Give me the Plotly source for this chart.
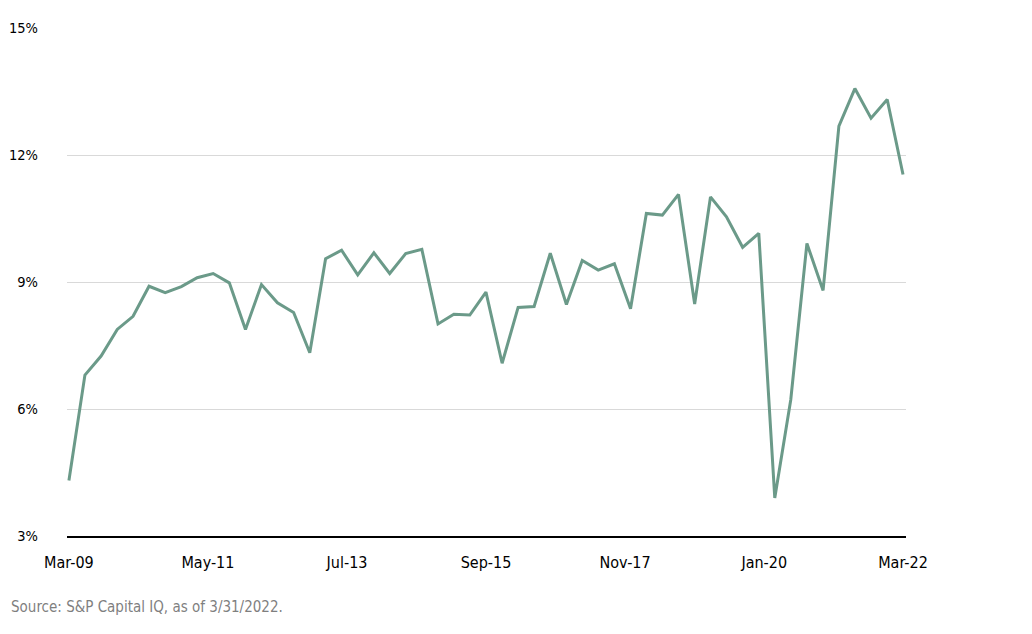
import plotly.graph_objects as go

# quarter ends, Mar-09 .. Mar-22
quarters = [f"{y}-{m}" for y in range(2009, 2023) for m in ("03-31", "06-30", "09-30", "12-31")]
quarters = quarters[:53]

values = [4.31, 6.80, 7.25, 7.88, 8.19, 8.90, 8.75, 8.89, 9.10, 9.20,
          8.98, 7.88, 8.94, 8.51, 8.28, 7.33, 9.55, 9.75, 9.17, 9.69,
          9.20, 9.67, 9.77, 8.01, 8.24, 8.22, 8.76, 7.08, 8.40, 8.42,
          9.68, 8.47, 9.51, 9.28, 9.43, 8.37, 10.62, 10.58, 11.07, 8.48,
          11.01, 10.54, 9.82, 10.15, 3.90, 6.22, 9.91, 8.80, 12.68, 13.57,
          12.87, 13.31, 11.54]

tick_dates = ["2009-03-31", "2011-05-31", "2013-07-31", "2015-09-30",
              "2017-11-30", "2020-01-31", "2022-03-31"]
tick_labels = ["Mar-09", "May-11", "Jul-13", "Sep-15", "Nov-17", "Jan-20", "Mar-22"]

y_ticks = [3, 6, 9, 12, 15]
y_labels = ["3%", "6%", "9%", "12%", "15%"]

font = "DejaVu Sans Condensed, DejaVu Sans, sans-serif"

fig = go.Figure()
fig.add_trace(go.Scatter(x=quarters, y=values, mode="lines",
                         line=dict(color="#6b9a89", width=3),
                         showlegend=False, hoverinfo="x+y"))

# page body adds an 8px offset, so margins are shifted to compensate
fig.update_layout(
    width=1032, height=634,
    margin=dict(l=59, r=134, t=20, b=106),
    paper_bgcolor="white", plot_bgcolor="white",
    font=dict(family=font, color="#000000"),
)
fig.update_xaxes(
    type="date", automargin=False,
    range=["2009-03-20", "2022-04-17"],
    tickvals=tick_dates, ticktext=tick_labels,
    tickfont=dict(size=16, family=font, color="#000000"),
    showgrid=False, showline=True, linecolor="#000000", linewidth=1.5,
    ticks="", ticklabelstandoff=11,
)
fig.update_yaxes(
    range=[3, 15], automargin=False,
    tickvals=y_ticks, ticktext=y_labels,
    tickfont=dict(size=14.5, family=font, color="#000000"),
    showgrid=True, gridcolor="#d9d9d9", gridwidth=1.2,
    zeroline=False, showline=False, ticks="", ticklabelstandoff=28,
)
fig.add_annotation(
    text="Source: S&P Capital IQ, as of 3/31/2022.",
    xref="paper", yref="paper", x=0, y=0, xshift=-58, yshift=-71,
    xanchor="left", yanchor="middle", showarrow=False,
    font=dict(size=15, family=font, color="#7f7f7f"),
)

fig.write_html("out.html")
